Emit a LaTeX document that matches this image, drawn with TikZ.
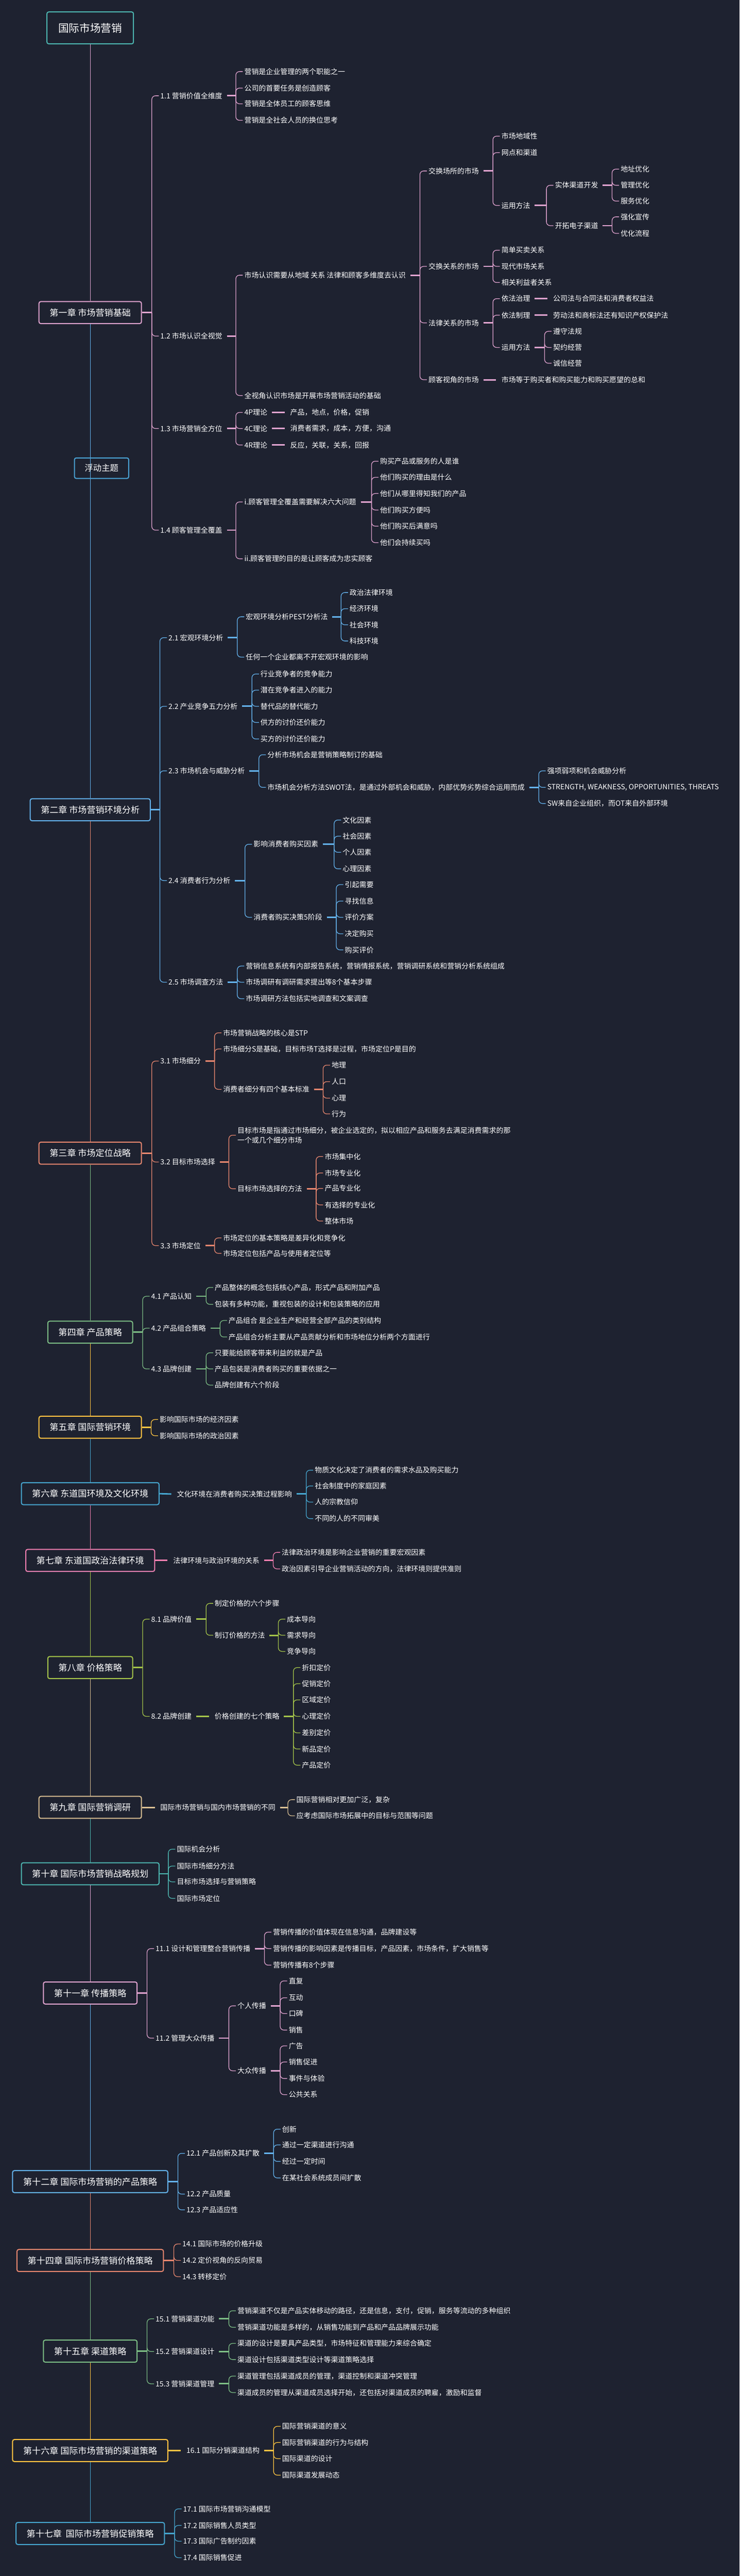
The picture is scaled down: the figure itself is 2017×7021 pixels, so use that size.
\documentclass[tikz,border=0pt]{standalone}
\usepackage{fontspec}
\newfontfamily\cjk{Noto Sans CJK SC}
\usetikzlibrary{positioning}

\definecolor{bgc}{HTML}{1E2230}
\definecolor{cpink}{HTML}{E0A3CF}
\definecolor{cblue}{HTML}{64B2EC}
\definecolor{corange}{HTML}{E8876F}
\definecolor{cgreen}{HTML}{7DBE85}
\definecolor{cgold}{HTML}{FFC542}
\definecolor{ccyan}{HTML}{46A6CF}
\definecolor{crose}{HTML}{F07FB0}
\definecolor{clime}{HTML}{A6C64A}
\definecolor{ctan}{HTML}{D8BE92}
\definecolor{cteal}{HTML}{4DB6B0}
\definecolor{cfloat}{HTML}{4AA3D5}

% parent, colour, gap, children
\newcommand{\branchout}[4]{%
  \foreach \kid in {#4} {
    \draw[stub, #2] ([xshift=#3]#1.east) -- ([xshift=-9.5pt]#1.east -| \kid.west);
    \draw[twig, #2] ([xshift=-9.5pt]#1.east -| \kid.west) |- (\kid.west);
  }}
% parent, colour, gap, single child
\newcommand{\linkto}[4]{\draw[stub, #2] ([xshift=#3]#1.east) -- ([xshift=-5.5pt]#4.west);}

\begin{document}
\begin{tikzpicture}[x=0.5pt, y=-0.5pt,
    leaf/.style={anchor=west, xshift=-2pt, inner xsep=2pt, inner ysep=1pt, text=white, font=\cjk\fontsize{9.8}{13.5}\selectfont},
    chapter/.style={draw, line width=1.4pt, rounded corners=2.5pt, fill=bgc, text=white, inner xsep=14.5pt, inner ysep=0pt, minimum height=30pt, font=\cjk\fontsize{12}{14}\selectfont},
    spine/.style={line width=0.9pt},
    stub/.style={line width=2pt},
    twig/.style={line width=0.9pt, rounded corners=5pt}]

    \useasboundingbox (0,0) rectangle (2017,7021);
    \fill[bgc] (0,0) rectangle (2017,7021);

    %% Main topic
    \node[chapter, draw=cteal, minimum height=43.5pt, inner xsep=15.5pt, font=\cjk\fontsize{14.5}{17}\selectfont] (t) at (246,76) {国际市场营销};

    %% Chapter 1
    % Nodes
    \node[chapter, draw=cpink] (c1) at (246,852) {第一章 市场营销基础};
    \node[leaf] (s11) at (437,261) {1.1 营销价值全维度};
    \node[leaf] (s11a) at (666,195) {营销是企业管理的两个职能之一};
    \node[leaf] (s11b) at (666,240) {公司的首要任务是创造顾客};
    \node[leaf] (s11c) at (666,283) {营销是全体员工的顾客思维};
    \node[leaf] (s11d) at (666,328) {营销是全社会人员的换位思考};
    \node[leaf] (s12) at (437,916) {1.2 市场认识全视觉};
    \node[leaf] (s12a) at (666,750) {市场认识需要从地域 关系 法律和顾客多维度去认识};
    \node[leaf] (m1) at (1168,466) {交换场所的市场};
    \node[leaf] (m1a) at (1367,371) {市场地域性};
    \node[leaf] (m1b) at (1367,416) {网点和渠道};
    \node[leaf] (m1c) at (1367,560) {运用方法};
    \node[leaf] (m1c1) at (1513,505) {实体渠道开发};
    \node[leaf] (m1c1a) at (1692,461) {地址优化};
    \node[leaf] (m1c1b) at (1692,505) {管理优化};
    \node[leaf] (m1c1c) at (1692,548) {服务优化};
    \node[leaf] (m1c2) at (1513,615) {开拓电子渠道};
    \node[leaf] (m1c2a) at (1692,591) {强化宣传};
    \node[leaf] (m1c2b) at (1692,636) {优化流程};
    \node[leaf] (m2) at (1168,726) {交换关系的市场};
    \node[leaf] (m2a) at (1367,682) {简单买卖关系};
    \node[leaf] (m2b) at (1367,726) {现代市场关系};
    \node[leaf] (m2c) at (1367,770) {相关利益者关系};
    \node[leaf] (m3) at (1168,880) {法律关系的市场};
    \node[leaf] (m3a) at (1367,814) {依法治理};
    \node[leaf] (m3a1) at (1508,814) {公司法与合同法和消费者权益法};
    \node[leaf] (m3b) at (1367,859) {依法制理};
    \node[leaf] (m3b1) at (1508,859) {劳动法和商标法还有知识产权保护法};
    \node[leaf] (m3c) at (1367,947) {运用方法};
    \node[leaf] (m3c1) at (1508,903) {遵守法规};
    \node[leaf] (m3c2) at (1508,947) {契约经营};
    \node[leaf] (m3c3) at (1508,990) {诚信经营};
    \node[leaf] (m4) at (1168,1035) {顾客视角的市场};
    \node[leaf] (m4a) at (1367,1035) {市场等于购买者和购买能力和购买愿望的总和};
    \node[leaf] (s12b) at (666,1078) {全视角认识市场是开展市场营销活动的基础};
    \node[leaf] (s13) at (437,1168) {1.3 市场营销全方位};
    \node[leaf] (s13a) at (666,1124) {4P理论};
    \node[leaf] (s13a1) at (791,1124) {产品，地点，价格，促销};
    \node[leaf] (s13b) at (666,1168) {4C理论};
    \node[leaf] (s13b1) at (791,1168) {消费者需求，成本，方便，沟通};
    \node[leaf] (s13c) at (666,1213) {4R理论};
    \node[leaf] (s13c1) at (791,1213) {反应，关联，关系，回报};
    \node[leaf] (s14) at (437,1445) {1.4 顾客管理全覆盖};
    \node[leaf] (s14a) at (666,1368) {i.顾客管理全覆盖需要解决六大问题};
    \node[leaf] (q1) at (1036,1257) {购买产品或服务的人是谁};
    \node[leaf] (q2) at (1036,1301) {他们购买的理由是什么};
    \node[leaf] (q3) at (1036,1345) {他们从哪里得知我们的产品};
    \node[leaf] (q4) at (1036,1390) {他们购买方便吗};
    \node[leaf] (q5) at (1036,1434) {他们购买后满意吗};
    \node[leaf] (q6) at (1036,1479) {他们会持续买吗};
    \node[leaf] (s14b) at (666,1523) {ii.顾客管理的目的是让顾客成为忠实顾客};

    % Connections
    \branchout{c1}{cpink}{0pt}{s11,s12,s13,s14}
    \branchout{s11}{cpink}{4pt}{s11a,s11b,s11c,s11d}
    \branchout{s12}{cpink}{4pt}{s12a,s12b}
    \branchout{s12a}{cpink}{4pt}{m1,m2,m3,m4}
    \branchout{m1}{cpink}{4pt}{m1a,m1b,m1c}
    \branchout{m1c}{cpink}{4pt}{m1c1,m1c2}
    \branchout{m1c1}{cpink}{4pt}{m1c1a,m1c1b,m1c1c}
    \branchout{m1c2}{cpink}{4pt}{m1c2a,m1c2b}
    \branchout{m2}{cpink}{4pt}{m2a,m2b,m2c}
    \branchout{m3}{cpink}{4pt}{m3a,m3b,m3c}
    \linkto{m3a}{cpink}{4pt}{m3a1}
    \linkto{m3b}{cpink}{4pt}{m3b1}
    \branchout{m3c}{cpink}{4pt}{m3c1,m3c2,m3c3}
    \linkto{m4}{cpink}{4pt}{m4a}
    \branchout{s13}{cpink}{4pt}{s13a,s13b,s13c}
    \linkto{s13a}{cpink}{4pt}{s13a1}
    \linkto{s13b}{cpink}{4pt}{s13b1}
    \linkto{s13c}{cpink}{4pt}{s13c1}
    \branchout{s14}{cpink}{4pt}{s14a,s14b}
    \branchout{s14a}{cpink}{4pt}{q1,q2,q3,q4,q5,q6}

    %% Chapter 2
    % Nodes
    \node[chapter, draw=cblue] (c2) at (246,2207) {第二章 市场营销环境分析};
    \node[leaf] (s21) at (459,1738) {2.1 宏观环境分析};
    \node[leaf] (s21a) at (670,1681) {宏观环境分析PEST分析法};
    \node[leaf] (e1) at (953,1615) {政治法律环境};
    \node[leaf] (e2) at (953,1659) {经济环境};
    \node[leaf] (e3) at (953,1703) {社会环境};
    \node[leaf] (e4) at (953,1747) {科技环境};
    \node[leaf] (s21b) at (670,1791) {任何一个企业都离不开宏观环境的影响};
    \node[leaf] (s22) at (459,1925) {2.2 产业竞争五力分析};
    \node[leaf] (f1) at (710,1837) {行业竞争者的竞争能力};
    \node[leaf] (f2) at (710,1881) {潜在竞争者进入的能力};
    \node[leaf] (f3) at (710,1925) {替代品的替代能力};
    \node[leaf] (f4) at (710,1969) {供方的讨价还价能力};
    \node[leaf] (f5) at (710,2014) {买方的讨价还价能力};
    \node[leaf] (s23) at (459,2101) {2.3 市场机会与威胁分析};
    \node[leaf] (s23a) at (729,2057) {分析市场机会是营销策略制订的基础};
    \node[leaf] (s23b) at (729,2146) {市场机会分析方法SWOT法，是通过外部机会和威胁，内部优势劣势综合运用而成};
    \node[leaf] (w1) at (1492,2101) {强项弱项和机会威胁分析};
    \node[leaf] (w2) at (1492,2146) {STRENGTH, WEAKNESS, OPPORTUNITIES, THREATS};
    \node[leaf] (w3) at (1492,2190) {SW来自企业组织，而OT来自外部环境};
    \node[leaf] (s24) at (459,2400) {2.4 消费者行为分析};
    \node[leaf] (s24a) at (691,2301) {影响消费者购买因素};
    \node[leaf] (g1) at (934,2235) {文化因素};
    \node[leaf] (g2) at (934,2279) {社会因素};
    \node[leaf] (g3) at (934,2323) {个人因素};
    \node[leaf] (g4) at (934,2368) {心理因素};
    \node[leaf] (s24b) at (691,2500) {消费者购买决策5阶段};
    \node[leaf] (h1) at (940,2411) {引起需要};
    \node[leaf] (h2) at (940,2456) {寻找信息};
    \node[leaf] (h3) at (940,2500) {评价方案};
    \node[leaf] (h4) at (940,2545) {决定购买};
    \node[leaf] (h5) at (940,2589) {购买评价};
    \node[leaf] (s25) at (459,2677) {2.5 市场调查方法};
    \node[leaf] (s25a) at (670,2633) {营销信息系统有内部报告系统，营销情报系统，营销调研系统和营销分析系统组成};
    \node[leaf] (s25b) at (670,2677) {市场调研有调研需求提出等8个基本步骤};
    \node[leaf] (s25c) at (670,2722) {市场调研方法包括实地调查和文案调查};

    % Connections
    \branchout{c2}{cblue}{0pt}{s21,s22,s23,s24,s25}
    \branchout{s21}{cblue}{4pt}{s21a,s21b}
    \branchout{s21a}{cblue}{4pt}{e1,e2,e3,e4}
    \branchout{s22}{cblue}{4pt}{f1,f2,f3,f4,f5}
    \branchout{s23}{cblue}{4pt}{s23a,s23b}
    \branchout{s23b}{cblue}{4pt}{w1,w2,w3}
    \branchout{s24}{cblue}{4pt}{s24a,s24b}
    \branchout{s24a}{cblue}{4pt}{g1,g2,g3,g4}
    \branchout{s24b}{cblue}{4pt}{h1,h2,h3,h4,h5}
    \branchout{s25}{cblue}{4pt}{s25a,s25b,s25c}

    %% Chapter 3
    % Nodes
    \node[chapter, draw=corange] (c3) at (246,3143) {第三章 市场定位战略};
    \node[leaf] (s31) at (437,2892) {3.1 市场细分};
    \node[leaf] (s31a) at (608,2815) {市场营销战略的核心是STP};
    \node[leaf] (s31b) at (608,2859) {市场细分S是基础，目标市场T选择是过程，市场定位P是目的};
    \node[leaf] (s31c) at (608,2969) {消费者细分有四个基本标准};
    \node[leaf] (k1) at (904,2903) {地理};
    \node[leaf] (k2) at (904,2948) {人口};
    \node[leaf] (k3) at (904,2993) {心理};
    \node[leaf] (k4) at (904,3036) {行为};
    \node[leaf] (s32) at (437,3167) {3.2 目标市场选择};
    \node[leaf, align=left] (s32a) at (647,3094) {目标市场是指通过市场细分，被企业选定的，拟以相应产品和服务去满足消费需求的那\\一个或几个细分市场};
    \node[leaf] (s32b) at (647,3240) {目标市场选择的方法};
    \node[leaf] (n1) at (885,3152) {市场集中化};
    \node[leaf] (n2) at (885,3197) {市场专业化};
    \node[leaf] (n3) at (885,3239) {产品专业化};
    \node[leaf] (n4) at (885,3284) {有选择的专业化};
    \node[leaf] (n5) at (885,3328) {整体市场};
    \node[leaf] (s33) at (437,3395) {3.3 市场定位};
    \node[leaf] (s33a) at (608,3374) {市场定位的基本策略是差异化和竞争化};
    \node[leaf] (s33b) at (608,3416) {市场定位包括产品与使用者定位等};

    % Connections
    \branchout{c3}{corange}{0pt}{s31,s32,s33}
    \branchout{s31}{corange}{4pt}{s31a,s31b,s31c}
    \branchout{s31c}{corange}{4pt}{k1,k2,k3,k4}
    \branchout{s32}{corange}{4pt}{s32a,s32b}
    \branchout{s32b}{corange}{4pt}{n1,n2,n3,n4,n5}
    \branchout{s33}{corange}{4pt}{s33a,s33b}

    %% Chapter 4
    % Nodes
    \node[chapter, draw=cgreen] (c4) at (246,3631) {第四章 产品策略};
    \node[leaf] (s41) at (412,3533) {4.1 产品认知};
    \node[leaf] (s41a) at (585,3509) {产品整体的概念包括核心产品，形式产品和附加产品};
    \node[leaf] (s41b) at (585,3555) {包装有多种功能，重视包装的设计和包装策略的应用};
    \node[leaf] (s42) at (412,3620) {4.2 产品组合策略};
    \node[leaf] (s42a) at (623,3599) {产品组合 是企业生产和经营全部产品的类别结构};
    \node[leaf] (s42b) at (623,3644) {产品组合分析主要从产品贡献分析和市场地位分析两个方面进行};
    \node[leaf] (s43) at (412,3731) {4.3 品牌创建};
    \node[leaf] (s43a) at (585,3687) {只要能给顾客带来利益的就是产品};
    \node[leaf] (s43b) at (585,3731) {产品包装是消费者购买的重要依据之一};
    \node[leaf] (s43c) at (585,3775) {品牌创建有六个阶段};

    % Connections
    \branchout{c4}{cgreen}{0pt}{s41,s42,s43}
    \branchout{s41}{cgreen}{4pt}{s41a,s41b}
    \branchout{s42}{cgreen}{4pt}{s42a,s42b}
    \branchout{s43}{cgreen}{4pt}{s43a,s43b,s43c}

    %% Chapter 5
    \node[chapter, draw=cgold] (c5) at (246,3890) {第五章 国际营销环境};
    \node[leaf] (s5a) at (435,3869) {影响国际市场的经济因素};
    \node[leaf] (s5b) at (435,3913) {影响国际市场的政治因素};
    \branchout{c5}{cgold}{0pt}{s5a,s5b}

    %% Chapter 6
    \node[chapter, draw=ccyan] (c6) at (246,4071) {第六章 东道国环境及文化环境};
    \node[leaf] (s61) at (482,4072) {文化环境在消费者购买决策过程影响};
    \node[leaf] (s61a) at (858,4007) {物质文化决定了消费者的需求水品及购买能力};
    \node[leaf] (s61b) at (858,4050) {社会制度中的家庭因素};
    \node[leaf] (s61c) at (858,4094) {人的宗教信仰};
    \node[leaf] (s61d) at (858,4139) {不同的人的不同审美};
    \linkto{c6}{ccyan}{0pt}{s61}
    \branchout{s61}{ccyan}{4pt}{s61a,s61b,s61c,s61d}

    %% Chapter 7
    \node[chapter, draw=crose] (c7) at (246,4253) {第七章 东道国政治法律环境};
    \node[leaf] (s71) at (472,4253) {法律环境与政治环境的关系};
    \node[leaf] (s71a) at (768,4231) {法律政治环境是影响企业营销的重要宏观因素};
    \node[leaf] (s71b) at (768,4276) {政治因素引导企业营销活动的方向，法律环境则提供准则};
    \linkto{c7}{crose}{0pt}{s71}
    \branchout{s71}{crose}{4pt}{s71a,s71b}

    %% Chapter 8
    % Nodes
    \node[chapter, draw=clime] (c8) at (246,4545) {第八章 价格策略};
    \node[leaf] (s81) at (412,4413) {8.1 品牌价值};
    \node[leaf] (s81a) at (585,4370) {制定价格的六个步骤};
    \node[leaf] (s81b) at (585,4457) {制订价格的方法};
    \node[leaf] (r1) at (782,4413) {成本导向};
    \node[leaf] (r2) at (782,4457) {需求导向};
    \node[leaf] (r3) at (782,4501) {竞争导向};
    \node[leaf] (s82) at (412,4678) {8.2 品牌创建};
    \node[leaf] (s82a) at (585,4678) {价格创建的七个策略};
    \node[leaf] (p1) at (823,4545) {折扣定价};
    \node[leaf] (p2) at (823,4589) {促销定价};
    \node[leaf] (p3) at (823,4633) {区域定价};
    \node[leaf] (p4) at (823,4678) {心理定价};
    \node[leaf] (p5) at (823,4723) {差别定价};
    \node[leaf] (p6) at (823,4767) {新品定价};
    \node[leaf] (p7) at (823,4811) {产品定价};

    % Connections
    \branchout{c8}{clime}{0pt}{s81,s82}
    \branchout{s81}{clime}{4pt}{s81a,s81b}
    \branchout{s81b}{clime}{4pt}{r1,r2,r3}
    \linkto{s82}{clime}{4pt}{s82a}
    \branchout{s82a}{clime}{4pt}{p1,p2,p3,p4,p5,p6,p7}

    %% Chapter 9
    \node[chapter, draw=ctan] (c9) at (246,4926) {第九章 国际营销调研};
    \node[leaf] (s91) at (437,4926) {国际市场营销与国内市场营销的不同};
    \node[leaf] (s91a) at (808,4905) {国际营销相对更加广泛，复杂};
    \node[leaf] (s91b) at (808,4949) {应考虑国际市场拓展中的目标与范围等问题};
    \linkto{c9}{ctan}{0pt}{s91}
    \branchout{s91}{ctan}{4pt}{s91a,s91b}

    %% Chapter 10
    \node[chapter, draw=cteal] (c10) at (246,5107) {第十章 国际市场营销战略规划};
    \node[leaf] (s10a) at (482,5040) {国际机会分析};
    \node[leaf] (s10b) at (482,5086) {国际市场细分方法};
    \node[leaf] (s10c) at (482,5129) {目标市场选择与营销策略};
    \node[leaf] (s10d) at (482,5174) {国际市场定位};
    \branchout{c10}{cteal}{0pt}{s10a,s10b,s10c,s10d}

    %% Chapter 11
    % Nodes
    \node[chapter, draw=cpink] (c11) at (246,5432) {第十一章 传播策略};
    \node[leaf] (s111) at (424,5311) {11.1 设计和管理整合营销传播};
    \node[leaf] (s111a) at (744,5266) {营销传播的价值体现在信息沟通，品牌建设等};
    \node[leaf] (s111b) at (744,5311) {营销传播的影响因素是传播目标，产品因素，市场条件，扩大销售等};
    \node[leaf] (s111c) at (744,5356) {营销传播有8个步骤};
    \node[leaf] (s112) at (424,5555) {11.2 管理大众传播};
    \node[leaf] (s112a) at (647,5467) {个人传播};
    \node[leaf] (u1) at (787,5399) {直复};
    \node[leaf] (u2) at (787,5445) {互动};
    \node[leaf] (u3) at (787,5488) {口碑};
    \node[leaf] (u4) at (787,5533) {销售};
    \node[leaf] (s112b) at (647,5644) {大众传播};
    \node[leaf] (v1) at (787,5576) {广告};
    \node[leaf] (v2) at (787,5620) {销售促进};
    \node[leaf] (v3) at (787,5665) {事件与体验};
    \node[leaf] (v4) at (787,5709) {公共关系};

    % Connections
    \branchout{c11}{cpink}{0pt}{s111,s112}
    \branchout{s111}{cpink}{4pt}{s111a,s111b,s111c}
    \branchout{s112}{cpink}{4pt}{s112a,s112b}
    \branchout{s112a}{cpink}{4pt}{u1,u2,u3,u4}
    \branchout{s112b}{cpink}{4pt}{v1,v2,v3,v4}

    %% Chapter 12
    \node[chapter, draw=cblue] (c12) at (246,5946) {第十二章 国际市场营销的产品策略};
    \node[leaf] (s121) at (508,5869) {12.1 产品创新及其扩散};
    \node[leaf] (s121a) at (769,5803) {创新};
    \node[leaf] (s121b) at (769,5846) {通过一定渠道进行沟通};
    \node[leaf] (s121c) at (769,5891) {经过一定时间};
    \node[leaf] (s121d) at (769,5936) {在某社会系统成员间扩散};
    \node[leaf] (s122) at (508,5980) {12.2 产品质量};
    \node[leaf] (s123) at (508,6023) {12.3 产品适应性};
    \branchout{c12}{cblue}{0pt}{s121,s122,s123}
    \branchout{s121}{cblue}{4pt}{s121a,s121b,s121c,s121d}

    %% Chapter 14
    \node[chapter, draw=corange] (c14) at (246,6161) {第十四章 国际市场营销价格策略};
    \node[leaf] (s141) at (497,6116) {14.1 国际市场的价格升级};
    \node[leaf] (s142) at (497,6161) {14.2 定价视角的反向贸易};
    \node[leaf] (s143) at (497,6205) {14.3 转移定价};
    \branchout{c14}{corange}{0pt}{s141,s142,s143}

    %% Chapter 15
    % Nodes
    \node[chapter, draw=cgreen] (c15) at (246,6408) {第十五章 渠道策略};
    \node[leaf] (s151) at (424,6320) {15.1 营销渠道功能};
    \node[leaf] (s151a) at (647,6298) {营销渠道不仅是产品实体移动的路径，还是信息，支付，促销，服务等流动的多种组织};
    \node[leaf] (s151b) at (647,6343) {营销渠道功能是多样的，从销售功能到产品和产品品牌展示功能};
    \node[leaf] (s152) at (424,6409) {15.2 营销渠道设计};
    \node[leaf] (s152a) at (647,6387) {渠道的设计是要具产品类型，市场特征和管理能力来综合确定};
    \node[leaf] (s152b) at (647,6431) {渠道设计包括渠道类型设计等渠道策略选择};
    \node[leaf] (s153) at (424,6497) {15.3 营销渠道管理};
    \node[leaf] (s153a) at (647,6476) {渠道管理包括渠道成员的管理，渠道控制和渠道冲突管理};
    \node[leaf] (s153b) at (647,6521) {渠道成员的管理从渠道成员选择开始，还包括对渠道成员的聘雇，激励和监督};

    % Connections
    \branchout{c15}{cgreen}{0pt}{s151,s152,s153}
    \branchout{s151}{cgreen}{4pt}{s151a,s151b}
    \branchout{s152}{cgreen}{4pt}{s152a,s152b}
    \branchout{s153}{cgreen}{4pt}{s153a,s153b}

    %% Chapter 16
    \node[chapter, draw=cgold] (c16) at (246,6679) {第十六章 国际市场营销的渠道策略};
    \node[leaf] (s161) at (508,6679) {16.1 国际分销渠道结构};
    \node[leaf] (s161a) at (769,6613) {国际营销渠道的意义};
    \node[leaf] (s161b) at (769,6657) {国际营销渠道的行为与结构};
    \node[leaf] (s161c) at (769,6701) {国际渠道的设计};
    \node[leaf] (s161d) at (769,6746) {国际渠道发展动态};
    \linkto{c16}{cgold}{0pt}{s161}
    \branchout{s161}{cgold}{4pt}{s161a,s161b,s161c,s161d}

    %% Chapter 17
    \node[chapter, draw=ccyan] (c17) at (246,6905) {第十七章\ \ 国际市场营销促销策略};
    \node[leaf] (s171) at (499,6838) {17.1 国际市场营销沟通模型};
    \node[leaf] (s172) at (499,6883) {17.2 国际销售人员类型};
    \node[leaf] (s173) at (499,6926) {17.3 国际广告制约因素};
    \node[leaf] (s174) at (499,6971) {17.4 国际销售促进};
    \branchout{c17}{ccyan}{0pt}{s171,s172,s173,s174}

    %% Spine
    \draw[spine, cpink] (t.south) -- (c1.north);
    \draw[spine, cblue] (c1.south) -- (c2.north);
    \draw[spine, corange] (c2.south) -- (c3.north);
    \draw[spine, cgreen] (c3.south) -- (c4.north);
    \draw[spine, cgold] (c4.south) -- (c5.north);
    \draw[spine, ccyan] (c5.south) -- (c6.north);
    \draw[spine, crose] (c6.south) -- (c7.north);
    \draw[spine, clime] (c7.south) -- (c8.north);
    \draw[spine, ctan] (c8.south) -- (c9.north);
    \draw[spine, cteal] (c9.south) -- (c10.north);
    \draw[spine, cpink] (c10.south) -- (c11.north);
    \draw[spine, cblue] (c11.south) -- (c12.north);
    \draw[spine, corange] (c12.south) -- (c14.north);
    \draw[spine, cgreen] (c14.south) -- (c15.north);
    \draw[spine, cgold] (c15.south) -- (c16.north);
    \draw[spine, ccyan] (c16.south) -- (c17.north);

    %% Floating topic
    \node[draw=cfloat, line width=1.4pt, rounded corners=2.5pt, text=white, minimum width=74pt, minimum height=28pt, font=\cjk\fontsize{11.5}{13}\selectfont] (float) at (277,1276) {浮动主题};

\end{tikzpicture}
\end{document}
